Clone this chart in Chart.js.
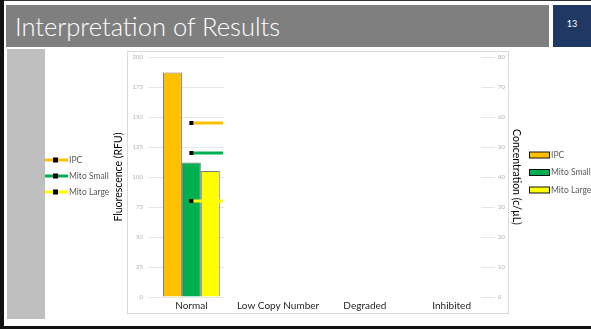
<!DOCTYPE html>
<html>
<head>
<meta charset="utf-8">
<script src="https://cdn.jsdelivr.net/npm/chart.js@4.4.1/dist/chart.umd.min.js"></script>
<style>
  html, body { margin: 0; padding: 0; background: #fff; }
  body { width: 591px; height: 329px; position: relative; overflow: hidden; font-family: Lato, "Open Sans", sans-serif; }
  .edge-left { position: absolute; left: 0; top: 0; width: 4px; height: 329px; background: #111; }
  .edge-top { position: absolute; left: 0; top: 0; width: 591px; height: 1px; background: #333; }
  .edge-bottom { position: absolute; left: 0; top: 326px; width: 591px; height: 3px; background: #111; }
  .title-bar { position: absolute; left: 6px; top: 5px; width: 543px; height: 42px; background: #7f7f7f; color: #fff;
               font-weight: 300; font-size: 25.5px; line-height: 42px; padding-left: 9px; box-sizing: border-box; }
  .page-no { position: absolute; left: 553px; top: 5px; width: 38px; height: 42px; background: #1f3864; color: #fff;
             font-size: 9px; line-height: 38px; text-align: center; }
  .sidebar { position: absolute; left: 7px; top: 49px; width: 38px; height: 270px; background: #bfbfbf; }
  .frame { position: absolute; left: 127px; top: 51px; width: 382px; height: 263px; border: 1px solid #d9d9d9; box-sizing: border-box; }
  #wrap { position: absolute; left: 0; top: 0; width: 591px; height: 329px; }
</style>
</head>
<body>
<div class="edge-top"></div>
<div class="edge-left"></div>
<div class="edge-bottom"></div>
<div class="title-bar">Interpretation of Results</div>
<div class="page-no">13</div>
<div class="sidebar"></div>
<div class="frame"></div>
<div id="wrap"><canvas id="chart"></canvas></div>

<script>
// categories and series
const categories = ['Normal', 'Low Copy Number', 'Degraded', 'Inhibited'];
const seriesNames = ['IPC', 'Mito Small', 'Mito Large'];
const seriesColors = ['#ffc000', '#00b050', '#ffff00'];

// fluorescence (RFU), bars on the left axis
const ipcRfu = [187, null, null, null];
const mitoSmallRfu = [112, null, null, null];
const mitoLargeRfu = [105, null, null, null];

// concentration (c/uL), markers on the right axis
const ipcConc = [58, null, null, null];
const mitoSmallConc = [48, null, null, null];
const mitoLargeConc = [32, null, null, null];

// tick labels
const rfuTicks = [0, 25, 50, 75, 100, 125, 150, 175, 200];
const concTicks = [0, 10, 20, 30, 40, 50, 60, 70, 80];

const FONT = 'Lato, "Open Sans", sans-serif';

// marker: black square with a short tail to the right
function markerImage(color) {
    const c = document.createElement('canvas');
    c.width = 64;
    c.height = 8;
    const g = c.getContext('2d');
    g.fillStyle = color;
    g.fillRect(32, 2.5, 32, 3);
    g.fillStyle = '#000';
    g.fillRect(30, 2, 4, 4);
    return c;
}

const rfuSets = [ipcRfu, mitoSmallRfu, mitoLargeRfu];
const concSets = [ipcConc, mitoSmallConc, mitoLargeConc];

const datasets = [];
seriesNames.forEach((name, i) => {
    datasets.push({
        type: 'bar',
        label: name,
        data: rfuSets[i],
        backgroundColor: seriesColors[i],
        borderColor: '#7a7a7a',
        borderWidth: 1,
        yAxisID: 'y',
        order: 1
    });
});
seriesNames.forEach((name, i) => {
    datasets.push({
        type: 'line',
        label: name,
        data: concSets[i],
        borderColor: seriesColors[i],
        backgroundColor: seriesColors[i],
        pointStyle: markerImage(seriesColors[i]),
        pointRadius: 4,
        yAxisID: 'y1',
        order: 0
    });
});

// two legends: line series on the left, bar series on the right
const sideLegends = {
    id: 'sideLegends',
    afterDraw(chart) {
        const ctx = chart.ctx;
        ctx.save();
        ctx.font = '8.5px ' + FONT;
        ctx.textBaseline = 'middle';
        let li = 0, ri = 0;
        chart.data.datasets.forEach(ds => {
            if (ds.type === 'line') {
                const y = 160 + li * 16;
                ctx.fillStyle = ds.borderColor;
                ctx.fillRect(45, y - 1.5, 23, 3);
                ctx.fillStyle = '#000';
                ctx.fillRect(53, y - 2.5, 5, 5);
                ctx.fillStyle = '#595959';
                ctx.fillText(ds.label, 69, y);
                li++;
            } else {
                const y = 155 + ri * 17.5;
                ctx.fillStyle = ds.backgroundColor;
                ctx.fillRect(529.5, y - 3, 20, 6);
                ctx.strokeStyle = '#111';
                ctx.lineWidth = 1;
                ctx.strokeRect(529.5, y - 3, 20, 6);
                ctx.fillStyle = '#595959';
                ctx.fillText(ds.label, 551, y);
                ri++;
            }
        });
        ctx.restore();
    }
};

// gridlines show only next to the two axes
function gridColor(context) {
    const area = context.chart.chartArea;
    if (!area) return '#e6e6e6';
    const g = context.chart.ctx.createLinearGradient(area.left, 0, area.right, 0);
    g.addColorStop(0, '#e6e6e6');
    g.addColorStop(0.219, '#e6e6e6');
    g.addColorStop(0.22, 'rgba(255,255,255,0)');
    g.addColorStop(0.96, 'rgba(255,255,255,0)');
    g.addColorStop(0.961, '#e6e6e6');
    g.addColorStop(1, '#e6e6e6');
    return g;
}

new Chart(document.getElementById('chart'), {
    data: {
        labels: categories,
        datasets: datasets
    },
    options: {
        responsive: true,
        maintainAspectRatio: false,
        animation: false,
        layout: {
            padding: { left: 110, right: 66, top: 57, bottom: 15 }
        },
        plugins: {
            legend: { display: false },
            tooltip: { enabled: false }
        },
        datasets: {
            bar: {
                categoryPercentage: 0.655,
                barPercentage: 1
            }
        },
        scales: {
            x: {
                grid: { display: false, drawTicks: false },
                border: { display: false },
                ticks: {
                    color: '#262626',
                    padding: 3,
                    maxRotation: 0,
                    font: { family: FONT, size: 10 }
                },
                afterFit(scale) { scale.height = 17; }
            },
            y: {
                position: 'left',
                min: 0,
                max: 200,
                afterBuildTicks(scale) { scale.ticks = rfuTicks.map(v => ({ value: v })); },
                grid: { color: gridColor, drawTicks: false },
                border: { display: false },
                ticks: {
                    color: '#b0b0b0',
                    padding: 5,
                    font: { family: FONT, size: 6 }
                },
                title: {
                    display: true,
                    text: 'Fluorescence (RFU)',
                    color: '#000',
                    padding: { top: 2, bottom: 0 },
                    font: { family: FONT, size: 10.5 }
                },
                afterFit(scale) { scale.width = 38; }
            },
            y1: {
                position: 'right',
                min: 0,
                max: 80,
                afterBuildTicks(scale) { scale.ticks = concTicks.map(v => ({ value: v })); },
                grid: { display: false, drawTicks: false },
                border: { display: false },
                ticks: {
                    color: '#b0b0b0',
                    padding: 3,
                    font: { family: FONT, size: 6 }
                },
                title: {
                    display: true,
                    text: 'Concentration (c/\u00b5L)',
                    color: '#000',
                    padding: { top: 2, bottom: 0 },
                    font: { family: FONT, size: 10.5 }
                },
                afterFit(scale) { scale.width = 30; }
            }
        }
    },
    plugins: [sideLegends]
});
</script>
</body>
</html>
